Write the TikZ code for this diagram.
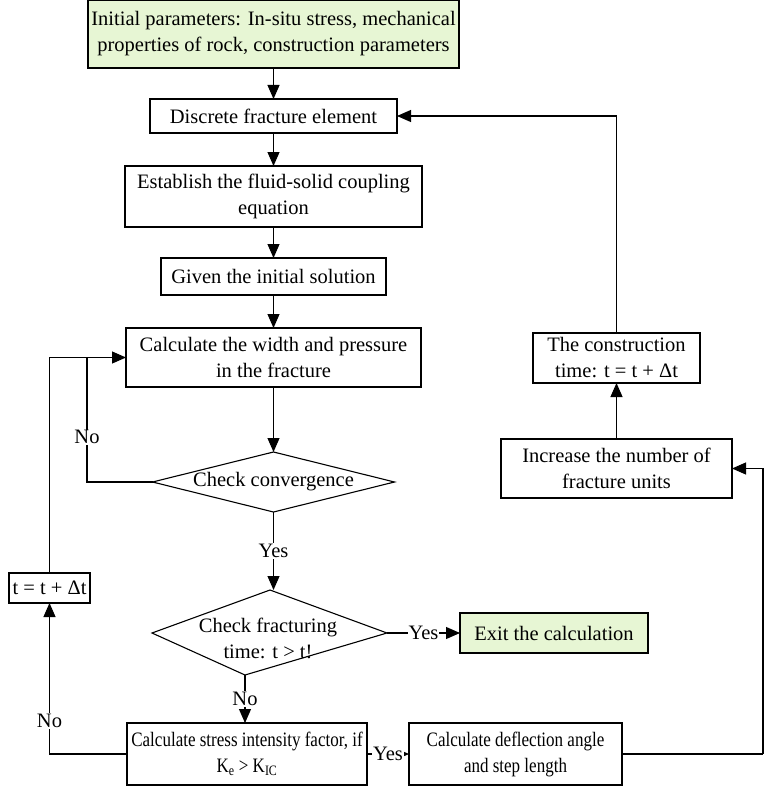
\documentclass[tikz,border=0pt]{standalone}
\usepackage{fontspec}
\setmainfont{Liberation Serif}
\newfontfamily\narrowserif[FakeStretch=0.83]{Liberation Serif}
\usetikzlibrary{shapes.geometric,arrows.meta}
\definecolor{startgreen}{RGB}{231,246,212}

\begin{document}
\begin{tikzpicture}[
  x=1pt, y=-1pt,
  every node/.style={font=\fontsize{20.5}{26}\selectfont, align=center, inner sep=2pt, outer sep=0pt},
  box/.style={draw, line width=1.1pt},
  narrowbox/.style={box, font=\fontsize{20.5}{26}\selectfont\narrowserif},
  decision/.style={draw, line width=1.1pt, diamond, aspect=4, inner sep=0pt},
  link/.style={line width=1.1pt},
  flow/.style={line width=1.1pt, -{Triangle[length=14pt,width=12pt]}},
  lab/.style={fill=white, inner sep=1pt}
]
\useasboundingbox (0,0) rectangle (765,789);

% main column
\node[box, fill=startgreen, minimum width=371pt, minimum height=68pt] (init) at (273.5,34)
  {Initial parameters: In-situ stress, mechanical\\properties of rock, construction parameters};
\node[box, minimum width=247pt, minimum height=34pt] (disc) at (273.5,116) {Discrete fracture element};
\node[box, minimum width=297pt, minimum height=61pt] (coup) at (273.5,196.5)
  {Establish the fluid-solid coupling\\equation};
\node[box, minimum width=225pt, minimum height=37pt] (given) at (273.5,276.5) {Given the initial solution};
\node[box, minimum width=295pt, minimum height=59pt] (calc) at (273.5,357.5)
  {Calculate the width and pressure\\in the fracture};
\node[decision, minimum width=242pt, minimum height=60pt] (conv) at (273.5,482) {Check convergence};

% fracturing check (slanted diamond)
\node (frac) at (268,638) {Check fracturing\\time: t > t!};
\coordinate (ftop) at (270,590);
\coordinate (fleft) at (152,633);
\coordinate (fright) at (387,633);
\coordinate (fbot) at (245,675);
\draw[link] (ftop) -- (fright) -- (fbot) -- (fleft) -- cycle;

\node[box, fill=startgreen, minimum width=188pt, minimum height=40pt] (exit) at (554,633) {Exit the calculation};
\node[narrowbox, minimum width=240pt, minimum height=62pt] (sif) at (247,754)
  {Calculate stress intensity factor, if\\K\textsubscript{e} > K\textsubscript{IC}};
\node[narrowbox, minimum width=213pt, minimum height=62pt] (defl) at (515.5,754)
  {Calculate deflection angle\\and step length};

% right branch
\node[box, minimum width=231pt, minimum height=59pt] (incr) at (616.5,468.5)
  {Increase the number of\\fracture units};
\node[box, minimum width=167pt, minimum height=50pt] (cons) at (616.5,358)
  {The construction\\time: t = t + Δt};

% time step
\node[box, inner sep=1pt, minimum width=81pt, minimum height=30pt] (tstep) at (49.5,588) {t = t + Δt};

\coordinate (join) at (87,358);
\coordinate (edge) at (763,754);

% connectors
\draw[flow] (init) -- (disc);
\draw[flow] (disc) -- (coup);
\draw[flow] (coup) -- (given);
\draw[flow] (given) -- (calc);
\draw[flow] (calc) -- (conv);
\draw[flow] (conv.south) -- node[lab] {Yes} (conv.south |- ftop);
\draw[link] (conv.west) -| node[lab, pos=0.68] {No} (join);
\draw[flow] (tstep.north) |- (calc.west);
\draw[flow] (sif.west) -| node[lab, pos=0.61] {No} (tstep.south);
\draw[flow] (fbot) -- node[lab] {No} (fbot |- sif.north);
\draw[flow] (fright) -- node[lab] {Yes} (exit.west);
\draw[flow] (sif.east) -- node[lab] {Yes} (defl.west);
\draw[link] (defl.east) -- (edge);
\draw[flow] (edge) |- (incr.east);
\draw[flow] (incr) -- (cons);
\draw[flow] (cons.north) |- (disc.east);
\end{tikzpicture}
\end{document}
